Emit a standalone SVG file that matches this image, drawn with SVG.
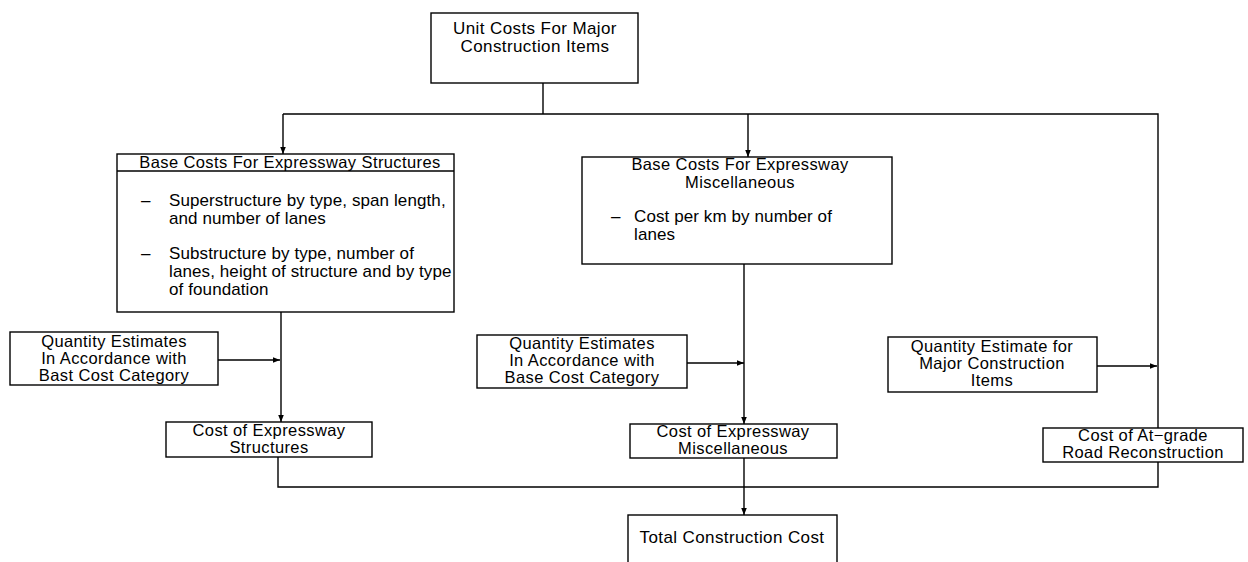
<svg xmlns="http://www.w3.org/2000/svg" width="1248" height="562" viewBox="0 0 1248 562">
<style>
.box{fill:#fff;stroke:#000;stroke-width:1.4}
.ln{fill:none;stroke:#000;stroke-width:1.4}
text{font-family:"Liberation Sans",Arial,sans-serif;font-size:17px;letter-spacing:0.4px;fill:#000}
.c{text-anchor:middle}
.h{font-size:16.5px}
.b{letter-spacing:0.1px}
.s{font-size:16.5px}
</style>
<defs>
<marker id="ah" viewBox="0 0 10 10" refX="10" refY="5" markerWidth="7" markerHeight="7" orient="auto" markerUnits="userSpaceOnUse">
<path d="M0,1 L10,5 L0,9 Z" fill="#000"/>
</marker>
</defs>
<rect width="1248" height="562" fill="#fff"/>
<g id="connectors">
<path class="ln" d="M543 83 V114"/>
<path class="ln" d="M283 114 H1158 V428"/>
<path class="ln" d="M283 114 V154" marker-end="url(#ah)"/>
<path class="ln" d="M748 114 V157" marker-end="url(#ah)"/>
<path class="ln" d="M281 312 V422" marker-end="url(#ah)"/>
<path class="ln" d="M218 360 H280" marker-end="url(#ah)"/>
<path class="ln" d="M744 264 V424" marker-end="url(#ah)"/>
<path class="ln" d="M687 363 H744" marker-end="url(#ah)"/>
<path class="ln" d="M1097 366 H1157" marker-end="url(#ah)"/>
<path class="ln" d="M278 457 V487 H1158 V462"/>
<path class="ln" d="M744 458 V515" marker-end="url(#ah)"/>
</g>
<g id="unit-costs">
<rect class="box" x="431" y="13" width="207" height="70"/>
<text class="c" x="535" y="34">Unit Costs For Major</text>
<text class="c" x="535" y="52">Construction Items</text>
</g>
<g id="base-structures">
<rect class="box" x="117" y="154" width="337" height="158"/>
<line class="ln" x1="117" y1="171" x2="454" y2="171"/>
<text class="c h" x="290" y="168">Base Costs For Expressway Structures</text>
<text x="141" y="206">–</text>
<text class="b" x="169" y="206">Superstructure by type, span length,</text>
<text class="b" x="169" y="224">and number of lanes</text>
<text x="141" y="259">–</text>
<text class="b" x="169" y="259">Substructure by type, number of</text>
<text class="b" x="169" y="277">lanes, height of structure and by type</text>
<text class="b" x="169" y="295">of foundation</text>
</g>
<g id="base-misc">
<rect class="box" x="582" y="157" width="310" height="107"/>
<text class="c h" x="740" y="170">Base Costs For Expressway</text>
<text class="c h" x="740" y="188">Miscellaneous</text>
<text x="611" y="222">–</text>
<text class="b" x="634" y="222">Cost per km by number of</text>
<text class="b" x="634" y="240">lanes</text>
</g>
<g id="qty-structures">
<rect class="box" x="10" y="332" width="208" height="53"/>
<text class="c s" x="114" y="347">Quantity Estimates</text>
<text class="c s" x="114" y="364">In Accordance with</text>
<text class="c s" x="114" y="381">Bast Cost Category</text>
</g>
<g id="qty-misc">
<rect class="box" x="477" y="335" width="210" height="53"/>
<text class="c s" x="582" y="349">Quantity Estimates</text>
<text class="c s" x="582" y="366">In Accordance with</text>
<text class="c s" x="582" y="383">Base Cost Category</text>
</g>
<g id="qty-major">
<rect class="box" x="888" y="337" width="209" height="55"/>
<text class="c s" x="992" y="352">Quantity Estimate for</text>
<text class="c s" x="992" y="369">Major Construction</text>
<text class="c s" x="992" y="386">Items</text>
</g>
<g id="cost-structures">
<rect class="box" x="166" y="422" width="206" height="35"/>
<text class="c s" x="269" y="436">Cost of Expressway</text>
<text class="c s" x="269" y="453">Structures</text>
</g>
<g id="cost-misc">
<rect class="box" x="630" y="424" width="207" height="34"/>
<text class="c s" x="733" y="437">Cost of Expressway</text>
<text class="c s" x="733" y="454">Miscellaneous</text>
</g>
<g id="cost-atgrade">
<rect class="box" x="1043" y="428" width="200" height="34"/>
<text class="c s" x="1143" y="441">Cost of At−grade</text>
<text class="c s" x="1143" y="458">Road Reconstruction</text>
</g>
<g id="total">
<rect class="box" x="628" y="515" width="209" height="60"/>
<text class="c" x="732" y="543">Total Construction Cost</text>
</g>
</svg>
